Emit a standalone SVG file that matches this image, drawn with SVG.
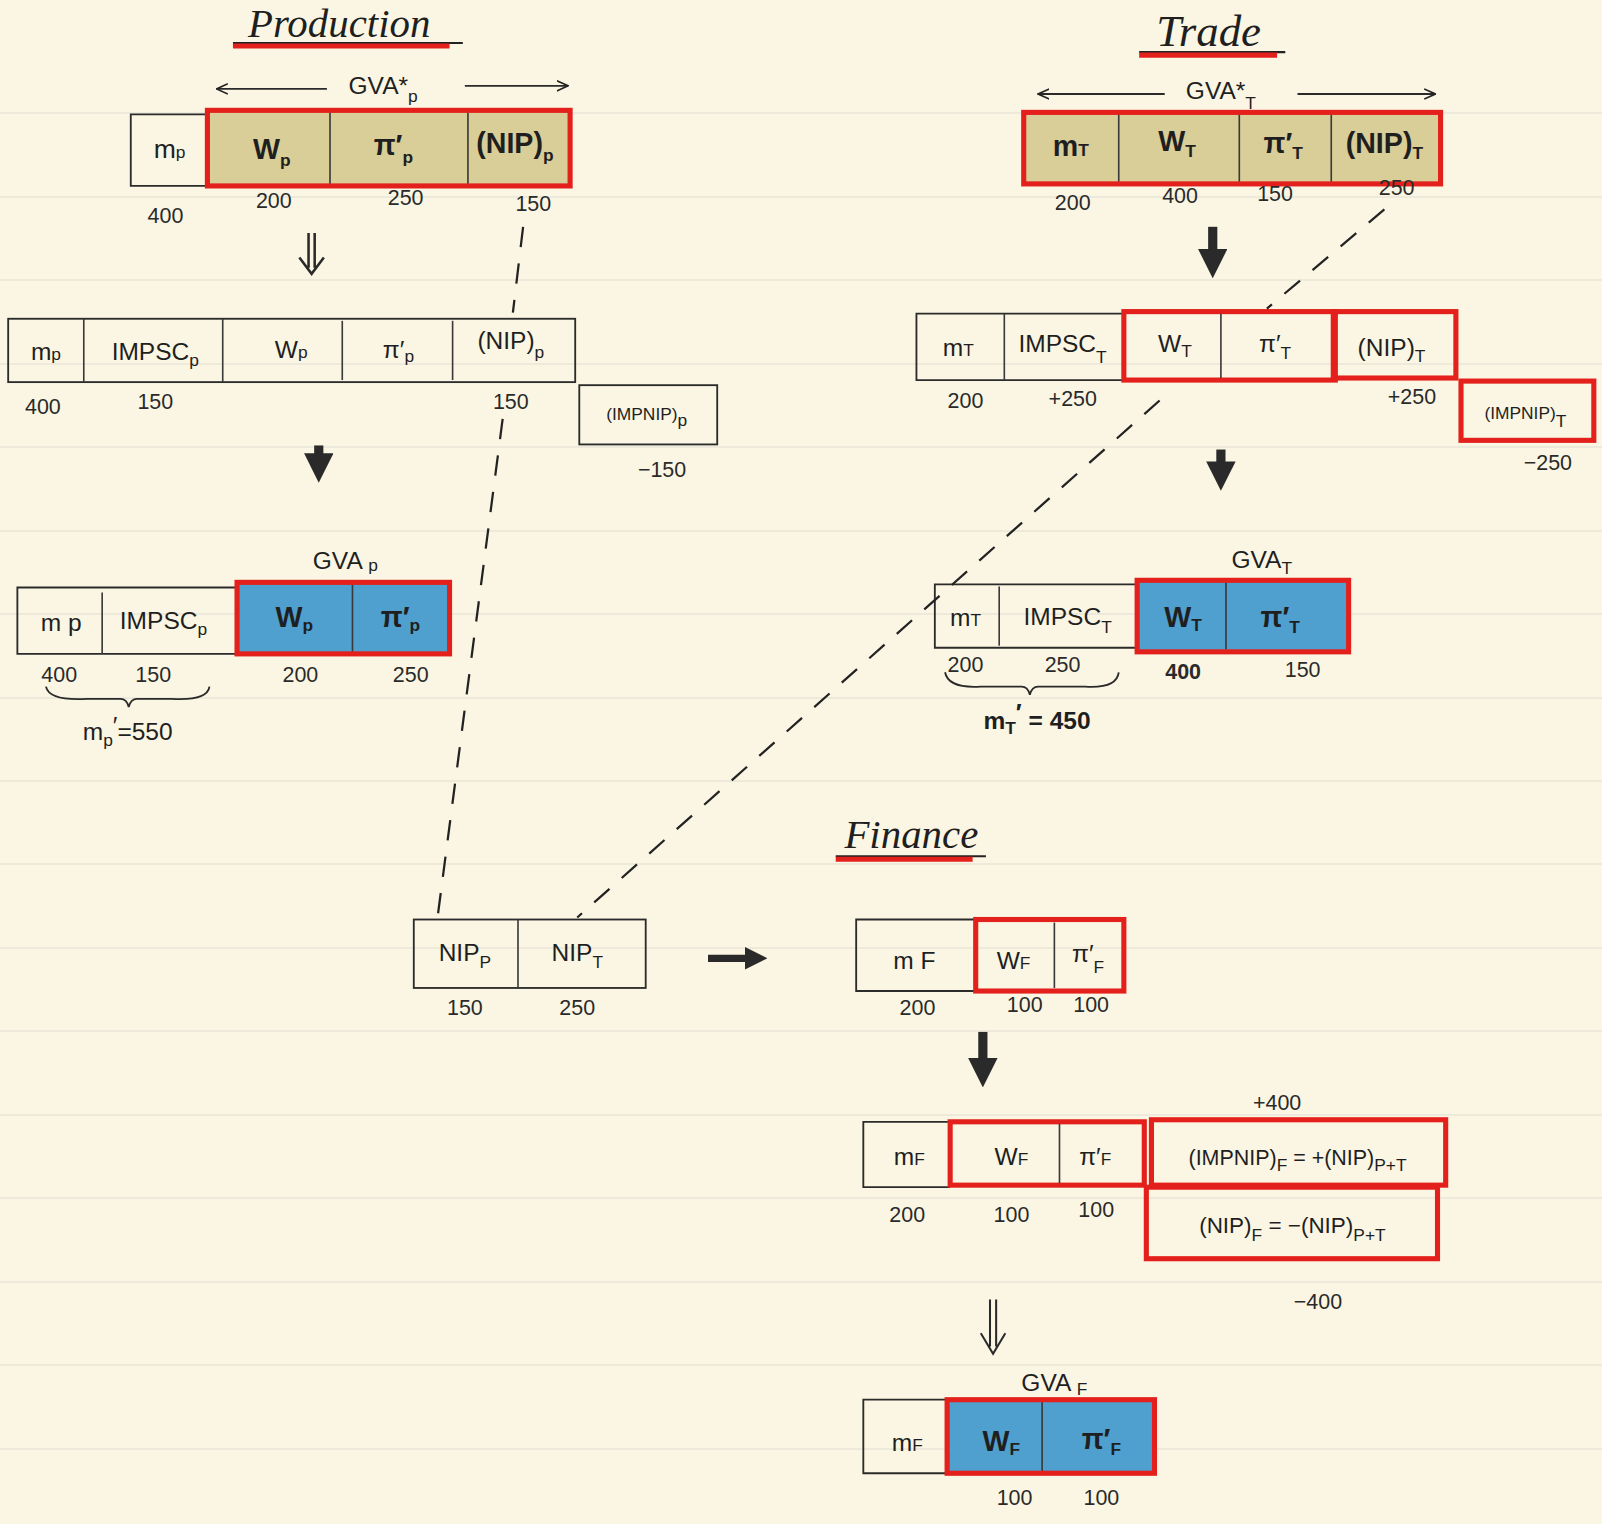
<svg xmlns="http://www.w3.org/2000/svg" width="1602" height="1524" viewBox="0 0 1602 1524">
<defs>
<style>
text{font-family:"Liberation Sans",Arial,sans-serif;fill:#1f1f1f;text-anchor:middle}
.t{font-size:24px}
.b{font-size:28px;font-weight:bold}
.s{font-size:17px}
.n{font-size:21px;fill:#2a2a2a}
.ttl{font-family:"Liberation Serif","Times New Roman",serif;font-style:italic;font-size:40px}
.cell{fill:none;stroke:#2b2b2b;stroke-width:1.8}
.div{stroke:#3a3a3a;stroke-width:1.6}
.red{fill:none;stroke:#e3201b;stroke-width:5}
.tan{fill:#d9cd98}
.blue{fill:#4f9fcf}
.dash{fill:none;stroke:#222;stroke-width:2.2;stroke-dasharray:20 16}
.bold{stroke:#2a2a2a;stroke-width:9;fill:none}
.thin{stroke:#2a2a2a;stroke-width:1.8;fill:none}
.ul{stroke:#e3201b;stroke-width:5}
.ulk{stroke:#222;stroke-width:2}
.rule{stroke:#e8e6da;stroke-width:1.5}
</style>
<marker id="head" viewBox="0 0 10 10" refX="5" refY="5" markerWidth="3.2" markerHeight="3.2" orient="auto">
<path d="M0,0 L10,5 L0,10 z" fill="#2a2a2a"/>
</marker>
<marker id="open" viewBox="0 0 12 12" refX="11" refY="6" markerWidth="12" markerHeight="12" markerUnits="userSpaceOnUse" orient="auto">
<path d="M0,1 L11,6 L0,11" fill="none" stroke="#222" stroke-width="1.6"/>
</marker>
</defs>
<rect x="0" y="0" width="1602" height="1524" fill="#faf6e3"/>
<g id="paper-rules">
<line class="rule" x1="0" y1="113" x2="1602" y2="113"/>
<line class="rule" x1="0" y1="197" x2="1602" y2="197"/>
<line class="rule" x1="0" y1="280" x2="1602" y2="280"/>
<line class="rule" x1="0" y1="364" x2="1602" y2="364"/>
<line class="rule" x1="0" y1="447" x2="1602" y2="447"/>
<line class="rule" x1="0" y1="531" x2="1602" y2="531"/>
<line class="rule" x1="0" y1="614" x2="1602" y2="614"/>
<line class="rule" x1="0" y1="698" x2="1602" y2="698"/>
<line class="rule" x1="0" y1="781" x2="1602" y2="781"/>
<line class="rule" x1="0" y1="864" x2="1602" y2="864"/>
<line class="rule" x1="0" y1="948" x2="1602" y2="948"/>
<line class="rule" x1="0" y1="1031" x2="1602" y2="1031"/>
<line class="rule" x1="0" y1="1115" x2="1602" y2="1115"/>
<line class="rule" x1="0" y1="1198" x2="1602" y2="1198"/>
<line class="rule" x1="0" y1="1282" x2="1602" y2="1282"/>
<line class="rule" x1="0" y1="1365" x2="1602" y2="1365"/>
<line class="rule" x1="0" y1="1449" x2="1602" y2="1449"/>
</g>
<g transform="scale(1.02168)">

<g id="title-production">
<text class="ttl" x="332" y="36">Production</text>
<line class="ulk" x1="228" y1="42" x2="453" y2="42"/>
<line class="ul" x1="228" y1="45" x2="440" y2="45"/>
</g>
<g id="title-trade">
<text class="ttl" x="1183" y="45" style="font-size:44px">Trade</text>
<line class="ulk" x1="1115" y1="51" x2="1258" y2="51"/>
<line class="ul" x1="1115" y1="54" x2="1250" y2="54"/>
</g>
<g id="title-finance">
<text class="ttl" x="892" y="830">Finance</text>
<line class="ulk" x1="818" y1="838" x2="965" y2="838"/>
<line class="ul" x1="818" y1="841" x2="952" y2="841"/>
</g>

<g id="prod-gva-star">
<line class="thin" x1="320" y1="87" x2="212" y2="87" marker-end="url(#open)"/>
<line class="thin" x1="455" y1="84" x2="556" y2="84" marker-end="url(#open)"/>
<text class="t" x="375" y="92">GVA*<tspan class="s" dy="8">p</tspan></text>
</g>
<g id="prod-row1">
<path class="cell" d="M203,112 H128 V182 H203"/>
<rect class="tan" x="203" y="108" width="355" height="74"/>
<line class="div" x1="323" y1="110" x2="323" y2="180"/>
<line class="div" x1="458" y1="110" x2="458" y2="180"/>
<rect class="red" x="203" y="108" width="355" height="74"/>
<text class="t" x="166" y="155" style="font-size:26px">m<tspan class="s">p</tspan></text>
<text class="b" x="266" y="156">W<tspan class="s" dy="6">p</tspan></text>
<text class="b" x="385" y="152">π′<tspan class="s" dy="8">p</tspan></text>
<text class="b" x="504" y="150">(NIP)<tspan class="s" dy="8">p</tspan></text>
<text class="n" x="162" y="218">400</text>
<text class="n" x="268" y="204">200</text>
<text class="n" x="397" y="201">250</text>
<text class="n" x="522" y="207">150</text>
</g>

<g id="trade-gva-star">
<line class="thin" x1="1140" y1="92" x2="1016" y2="92" marker-end="url(#open)"/>
<line class="thin" x1="1270" y1="92" x2="1405" y2="92" marker-end="url(#open)"/>
<text class="t" x="1195" y="97">GVA*<tspan class="s" dy="10">T</tspan></text>
</g>
<g id="trade-row1">
<rect class="tan" x="1002" y="110" width="408" height="70"/>
<line class="div" x1="1095" y1="112" x2="1095" y2="178"/>
<line class="div" x1="1213" y1="112" x2="1213" y2="178"/>
<line class="div" x1="1303" y1="112" x2="1303" y2="178"/>
<rect class="red" x="1002" y="110" width="408" height="70"/>
<text class="b" x="1048" y="153">m<tspan class="s">T</tspan></text>
<text class="b" x="1152" y="148">W<tspan class="s" dy="6">T</tspan></text>
<text class="b" x="1256" y="150">π′<tspan class="s" dy="6">T</tspan></text>
<text class="b" x="1355" y="150">(NIP)<tspan class="s" dy="6">T</tspan></text>
<text class="n" x="1050" y="206">200</text>
<text class="n" x="1155" y="199">400</text>
<text class="n" x="1248" y="197">150</text>
<text class="n" x="1367" y="191">250</text>
</g>

<g id="prod-row2">
<rect class="cell" x="8" y="312" width="555" height="62"/>
<line class="div" x1="82" y1="312" x2="82" y2="374"/>
<line class="div" x1="218" y1="312" x2="218" y2="374"/>
<line class="div" x1="335" y1="314" x2="335" y2="372"/>
<line class="div" x1="443" y1="314" x2="443" y2="372"/>
<text class="t" x="45" y="352">m<tspan class="s">p</tspan></text>
<text class="t" x="152" y="352">IMPSC<tspan class="s" dy="6">p</tspan></text>
<text class="t" x="285" y="350">W<tspan class="s">p</tspan></text>
<text class="t" x="390" y="350">π′<tspan class="s" dy="4">p</tspan></text>
<text class="t" x="500" y="342">(NIP)<tspan class="s" dy="8">p</tspan></text>
<text class="n" x="42" y="405">400</text>
<text class="n" x="152" y="400">150</text>
<text class="n" x="500" y="400">150</text>
</g>
<g id="prod-impnip">
<rect class="cell" x="567" y="377" width="135" height="58"/>
<text class="s" x="633" y="411">(IMPNIP)<tspan dy="6">p</tspan></text>
<text class="n" x="648" y="467">−150</text>
</g>

<g id="trade-row2">
<path class="cell" d="M1100,307 H897 V372 H1100"/>
<line class="div" x1="983" y1="307" x2="983" y2="372"/>
<rect class="red" x="1100" y="305" width="207" height="67"/>
<line class="div" x1="1195" y1="307" x2="1195" y2="370"/>
<text class="t" x="938" y="348">m<tspan class="s">T</tspan></text>
<text class="t" x="1040" y="345">IMPSC<tspan class="s" dy="10">T</tspan></text>
<text class="t" x="1150" y="345">W<tspan class="s" dy="4">T</tspan></text>
<text class="t" x="1248" y="345">π′<tspan class="s" dy="6">T</tspan></text>
<text class="n" x="945" y="399">200</text>
<text class="n" x="1050" y="397">+250</text>
</g>
<g id="trade-nip">
<rect class="red" x="1305" y="305" width="120" height="65"/>
<text class="t" x="1362" y="348">(NIP)<tspan class="s" dy="6">T</tspan></text>
<text class="n" x="1382" y="395">+250</text>
</g>
<g id="trade-impnip">
<rect class="red" x="1430" y="373" width="130" height="58"/>
<text class="s" x="1493" y="410">(IMPNIP)<tspan dy="8">T</tspan></text>
<text class="n" x="1515" y="460">−250</text>
</g>

<g id="prod-row3">
<text class="t" x="338" y="557">GVA <tspan class="s" dy="2">p</tspan></text>
<path class="cell" d="M232,575 H17 V640 H232"/>
<line class="div" x1="100" y1="580" x2="100" y2="640"/>
<rect class="blue" x="232" y="570" width="208" height="70"/>
<line class="div" x1="345" y1="572" x2="345" y2="638"/>
<rect class="red" x="232" y="570" width="208" height="70"/>
<text class="t" x="60" y="618">m p</text>
<text class="t" x="160" y="616">IMPSC<tspan class="s" dy="6">p</tspan></text>
<text class="b" x="288" y="614">W<tspan class="s" dy="4">p</tspan></text>
<text class="b" x="392" y="614">π′<tspan class="s" dy="4">p</tspan></text>
<text class="n" x="58" y="668">400</text>
<text class="n" x="150" y="668">150</text>
<text class="n" x="294" y="668">200</text>
<text class="n" x="402" y="668">250</text>
<path class="thin" d="M45,672 Q48,686 85,684 L118,684 Q124,684 126,692 Q128,684 134,684 L168,684 Q203,686 205,672"/>
<text class="t" x="125" y="724">m<tspan class="s" dy="6">p</tspan><tspan dy="-12">′</tspan><tspan dy="6">=550</tspan></text>
</g>

<g id="trade-row3">
<text class="t" x="1235" y="556">GVA<tspan class="s" dy="6">T</tspan></text>
<path class="cell" d="M1113,572 H915 V634 H1113"/>
<line class="div" x1="978" y1="574" x2="978" y2="632"/>
<rect class="blue" x="1113" y="568" width="207" height="70"/>
<line class="div" x1="1200" y1="570" x2="1200" y2="636"/>
<rect class="red" x="1113" y="568" width="207" height="70"/>
<text class="t" x="945" y="613">m<tspan class="s">T</tspan></text>
<text class="t" x="1045" y="612">IMPSC<tspan class="s" dy="8">T</tspan></text>
<text class="b" x="1158" y="614">W<tspan class="s" dy="4">T</tspan></text>
<text class="b" x="1253" y="614">π′<tspan class="s" dy="6">T</tspan></text>
<text class="n" x="945" y="658">200</text>
<text class="n" x="1040" y="658">250</text>
<text class="n" x="1158" y="665" style="font-weight:bold">400</text>
<text class="n" x="1275" y="663">150</text>
<path class="thin" d="M925,658 Q928,674 960,672 L1000,672 Q1006,672 1008,680 Q1010,672 1016,672 L1062,672 Q1093,674 1095,658"/>
<text class="t" x="1015" y="714" style="font-weight:bold">m<tspan class="s" dy="4">T</tspan><tspan dy="-12">′</tspan><tspan dy="8"> = 450</tspan></text>
</g>

<g id="nip-box">
<rect class="cell" x="405" y="900" width="227" height="67"/>
<line class="div" x1="507" y1="900" x2="507" y2="967"/>
<text class="t" x="455" y="941">NIP<tspan class="s" dy="6">P</tspan></text>
<text class="t" x="565" y="941">NIP<tspan class="s" dy="6">T</tspan></text>
<text class="n" x="455" y="993">150</text>
<text class="n" x="565" y="993">250</text>
</g>

<g id="fin-row1">
<path class="cell" d="M955,900 H838 V970 H955"/>
<rect class="red" x="955" y="900" width="145" height="70"/>
<line class="div" x1="1032" y1="903" x2="1032" y2="967"/>
<text class="t" x="895" y="948">m F</text>
<text class="t" x="992" y="948">W<tspan class="s">F</tspan></text>
<text class="t" x="1065" y="942">π′<tspan class="s" dy="10">F</tspan></text>
<text class="n" x="898" y="993">200</text>
<text class="n" x="1003" y="991">100</text>
<text class="n" x="1068" y="991">100</text>
</g>

<g id="fin-row2">
<path class="cell" d="M930,1098 H845 V1162 H930"/>
<rect class="red" x="930" y="1098" width="190" height="62"/>
<line class="div" x1="1037" y1="1100" x2="1037" y2="1158"/>
<text class="t" x="890" y="1140">m<tspan class="s">F</tspan></text>
<text class="t" x="990" y="1140">W<tspan class="s">F</tspan></text>
<text class="t" x="1072" y="1140">π′<tspan class="s">F</tspan></text>
<text class="n" x="888" y="1196">200</text>
<text class="n" x="990" y="1196">100</text>
<text class="n" x="1073" y="1191">100</text>
</g>
<g id="fin-impnip">
<rect class="red" x="1127" y="1096" width="288" height="64"/>
<text class="n" x="1250" y="1086">+400</text>
<text class="t" x="1270" y="1140" style="font-size:21px">(IMPNIP)<tspan class="s" dy="6">F</tspan><tspan dy="-6"> = +(NIP)</tspan><tspan class="s" dy="6">P+T</tspan></text>
</g>
<g id="fin-nip">
<rect class="red" x="1122" y="1162" width="285" height="70"/>
<text class="t" x="1265" y="1207" style="font-size:22px">(NIP)<tspan class="s" dy="8">F</tspan><tspan dy="-8"> = −(NIP)</tspan><tspan class="s" dy="8">P+T</tspan></text>
<text class="n" x="1290" y="1281">−400</text>
</g>

<g id="fin-row3">
<text class="t" x="1032" y="1361">GVA <tspan class="s" dy="4">F</tspan></text>
<path class="cell" d="M927,1370 H845 V1442 H927"/>
<rect class="blue" x="927" y="1370" width="203" height="72"/>
<line class="div" x1="1020" y1="1372" x2="1020" y2="1440"/>
<rect class="red" x="927" y="1370" width="203" height="72"/>
<text class="t" x="888" y="1420">m<tspan class="s">F</tspan></text>
<text class="b" x="980" y="1420">W<tspan class="s" dy="4">F</tspan></text>
<text class="b" x="1078" y="1418">π′<tspan class="s" dy="6">F</tspan></text>
<text class="n" x="993" y="1473">100</text>
<text class="n" x="1078" y="1473">100</text>
</g>

<g id="connectors">
<path class="thin" d="M302,228 V262 M308,228 V262 M293,252 L305,268 L317,252" style="stroke-width:2.5"/>
<line class="bold" x1="312" y1="436" x2="312" y2="458" marker-end="url(#head)"/>
<line class="bold" x1="1187" y1="222" x2="1187" y2="258" marker-end="url(#head)"/>
<line class="bold" x1="1195" y1="440" x2="1195" y2="466" marker-end="url(#head)"/>
<line class="bold" x1="962" y1="1010" x2="962" y2="1050" marker-end="url(#head)"/>
<path class="thin" d="M969,1272 V1318 M975,1272 V1318 M960,1305 L972,1325 L984,1305" style="stroke-width:2"/>
<line class="bold" x1="693" y1="938" x2="740" y2="938" style="stroke-width:7" marker-end="url(#head)"/>
<line class="dash" x1="512" y1="222" x2="502" y2="306"/>
<line class="dash" x1="492" y1="410" x2="428" y2="900"/>
<line class="dash" x1="1355" y1="205" x2="1240" y2="302"/>
<line class="dash" x1="1135" y1="392" x2="565" y2="898"/>
</g>
</g>
</svg>
